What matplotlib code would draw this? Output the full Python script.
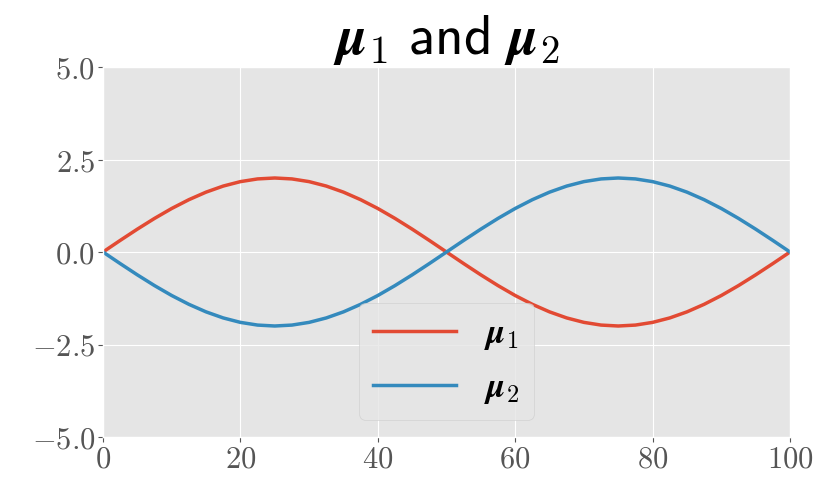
import matplotlib
matplotlib.use("Agg")
import matplotlib.pyplot as plt
from matplotlib.ticker import FuncFormatter

plt.style.use("ggplot")
plt.rcParams["mathtext.fontset"] = "cm"

x_vals = [0, 2.5, 5, 7.5, 10, 12.5, 15, 17.5, 20, 22.5, 25, 27.5, 30, 32.5, 35, 37.5,
          40, 42.5, 45, 47.5, 50, 52.5, 55, 57.5, 60, 62.5, 65, 67.5, 70, 72.5, 75,
          77.5, 80, 82.5, 85, 87.5, 90, 92.5, 95, 97.5, 100]
mu1 = [0.0, 0.313, 0.618, 0.908, 1.176, 1.414, 1.618, 1.782, 1.902, 1.975, 2.0,
       1.975, 1.902, 1.782, 1.618, 1.414, 1.176, 0.908, 0.618, 0.313, 0.0,
       -0.313, -0.618, -0.908, -1.176, -1.414, -1.618, -1.782, -1.902, -1.975, -2.0,
       -1.975, -1.902, -1.782, -1.618, -1.414, -1.176, -0.908, -0.618, -0.313, 0.0]
mu2 = [-v for v in mu1]

x_ticks = [0, 20, 40, 60, 80, 100]
y_ticks = [-5.0, -2.5, 0.0, 2.5, 5.0]

fig = plt.figure(figsize=(8.31, 5.0), dpi=100)
ax = fig.add_axes([103/831, 1-437/500, (790-103)/831, (437-67)/500])

ax.plot(x_vals, mu1, color="#E24A33", lw=2.5, label=r"$\boldsymbol{\mu}_1$")
ax.plot(x_vals, mu2, color="#348ABD", lw=2.5, label=r"$\boldsymbol{\mu}_2$")

ax.set_xlim(0, 100)
ax.set_ylim(-5, 5)
ax.set_xticks(x_ticks)
ax.set_yticks(y_ticks)
ax.xaxis.set_major_formatter(FuncFormatter(lambda v, p: r"$%d$" % v))
ax.yaxis.set_major_formatter(FuncFormatter(lambda v, p: r"$%.1f$" % v))
ax.tick_params(labelsize=22, colors="#555555", pad=2)

ax.set_title(r"$\boldsymbol{\mu}_1\ \mathsf{and}\ \boldsymbol{\mu}_2$", fontsize=40, pad=8)

leg = ax.legend(loc="lower center", fontsize=25, handlelength=2.4, framealpha=0.8,
                edgecolor="#CCCCCC", labelspacing=0.5)

fig.savefig("out.png", dpi=100)
